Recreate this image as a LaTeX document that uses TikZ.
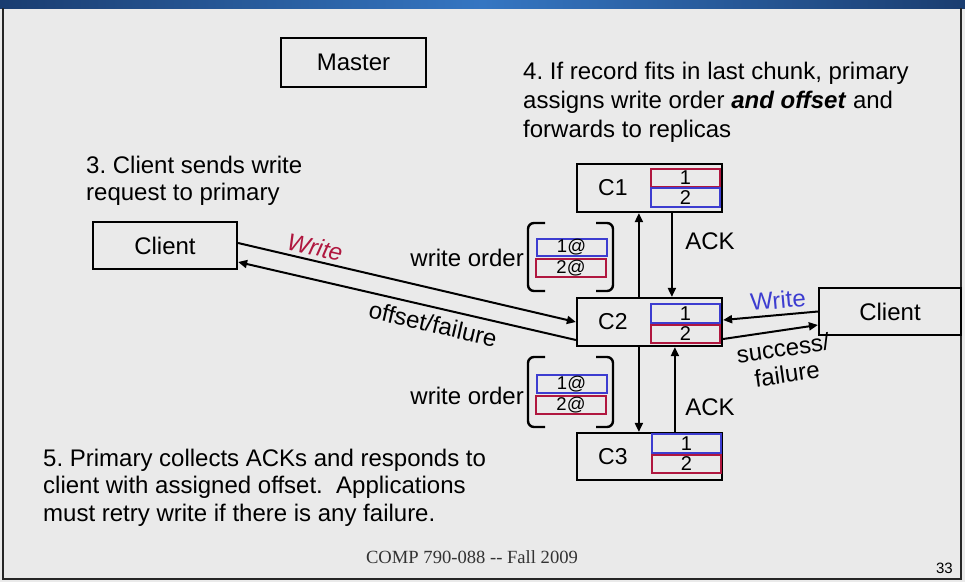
\documentclass[tikz,border=0pt]{standalone}
\usepackage{fontspec}
\setmainfont{Liberation Sans}
\newfontfamily\footerfont{Liberation Serif}
\usetikzlibrary{arrows.meta}
\definecolor{slidebg}{HTML}{EAEAEA}
\definecolor{chunkred}{HTML}{B0173F}
\definecolor{chunkblue}{HTML}{3D3DD0}
\definecolor{barblue}{HTML}{3576C2}
\definecolor{bardark}{HTML}{1A3D70}
\frenchspacing
\begin{document}
\begin{tikzpicture}[x=1pt,y=-1pt,
  box/.style={draw=black, line width=2.2pt, fill=slidebg, inner sep=0pt,
    minimum width=145pt, minimum height=48pt, font=\fontsize{24}{28}\selectfont},
  chunk/.style={draw=#1, line width=2pt, minimum width=69pt, minimum height=18.5pt,
    inner sep=0pt, font=\fontsize{20}{20}\selectfont},
  order/.style={chunk=#1, minimum width=70pt, minimum height=17.5pt,
    font=\fontsize{18.5}{18.5}\selectfont},
  arr/.style={line width=2pt, -{Triangle[length=9pt,width=8pt]}},
  brk/.style={line width=2.4pt, rounded corners=6pt},
  note/.style={anchor=base west, align=left, inner sep=0pt},
  lbl/.style={inner sep=0pt, font=\fontsize{24}{28}\selectfont},
]
\useasboundingbox (0,0) rectangle (965,582);
\fill[slidebg] (0,0) rectangle (965,582);

% slide frame and title bar
\shade[left color=bardark, right color=bardark, middle color=barblue] (0,0) rectangle (965,8);
\draw[line width=1.6pt, black!85] (3,8) -- (3,579) -- (961,579) -- (961,8);

% master, clients and chunkservers
\node[box, minimum width=145pt, minimum height=49pt] (master) at (353.5,62.5) {Master};
\node[box, minimum width=144pt, minimum height=47pt] (cliL) at (165,245.5) {Client};
\node[box, minimum width=142pt, minimum height=47pt] (cliR) at (890,311.5) {Client};
\node[box] (c1) at (649.5,188) {};
\node[box] (c2) at (649.5,322) {};
\node[box, minimum height=47pt] (c3) at (649.5,456.5) {};
\node[lbl, font=\fontsize{23}{26}\selectfont] (c1t) at ([xshift=37pt]c1.west) {C1};
\node[lbl, font=\fontsize{23}{26}\selectfont] (c2t) at ([xshift=37pt]c2.west) {C2};
\node[lbl, font=\fontsize{23}{26}\selectfont] (c3t) at ([xshift=37pt]c3.west) {C3};

% chunks held by each replica
\node[chunk=chunkred]  (c1a) at (685.5,178)   {1};
\node[chunk=chunkblue] (c1b) at (685.5,197.5) {2};
\node[chunk=chunkblue] (c2a) at (685.5,313.5) {1};
\node[chunk=chunkred]  (c2b) at (685.5,334)   {2};
\node[chunk=chunkblue] (c3a) at (686.5,443.5) {1};
\node[chunk=chunkred]  (c3b) at (686.5,464)   {2};

% write order forwarded to the replicas
\node[lbl, anchor=east] (wo1) at (524,258) {write order};
\node[order=chunkblue] (wo1a) at (571.5,247.5) {1@};
\node[order=chunkred]  (wo1b) at (571,268) {2@};
\draw[brk] (545,223) -- (528,223) -- (528,291) -- (545,291);
\draw[brk] (596,223) -- (613,223) -- (613,291) -- (596,291);

\node[lbl, anchor=east] (wo2) at (524,396) {write order};
\node[order=chunkblue] (wo2a) at (571.5,384) {1@};
\node[order=chunkred]  (wo2b) at (571,405) {2@};
\draw[brk] (545,357) -- (528,357) -- (528,427) -- (545,427);
\draw[brk] (596,357) -- (613,357) -- (613,427) -- (596,427);

% replication and acknowledgements
\draw[arr] ([xshift=63pt]c2.north west) -- ([xshift=63pt]c1.south west);
\draw[arr] ([xshift=96pt]c1.south west) -- ([xshift=96pt]c2.north west);
\draw[arr] ([xshift=63pt]c2.south west) -- ([xshift=63pt]c3.north west);
\draw[arr] ([xshift=99pt]c3.north west) -- ([xshift=99pt]c2.south west);
\node[lbl] (ack1) at (710,241) {ACK};
\node[lbl] (ack2) at (710,407) {ACK};

% client requests and replies
\draw[arr] ([yshift=2.5pt]cliL.east) -- (c2.west);
\draw[arr] ([yshift=-18pt]c2.west) -- ([yshift=-16.5pt]cliL.east);
\draw[arr] (cliR.west) -- ([yshift=2pt]c2.east);
\draw[arr] ([yshift=-17pt]c2.east) -- ([yshift=-13.5pt]cliR.west);
\node[lbl, text=chunkred, rotate=-13, font=\itshape\fontsize{24}{28}\selectfont] (wL) at (315,247) {Write};
\node[lbl, rotate=-13] (ofL) at (433,324) {offset/failure};
\node[lbl, text=chunkblue, rotate=5] (wR) at (778,300) {Write};
\node[lbl, rotate=8] (sR) at (783,348) {success/};
\node[lbl, rotate=8] (fR) at (787,374) {failure};

% explanatory notes (anchored at the baseline of their last line)
\node[note, font=\fontsize{24}{27}\selectfont] (n3) at (86,200)
  {3. Client sends write\\request to primary};
\node[note, font=\fontsize{24}{28.7}\selectfont] (n4) at (523,137)
  {4. If record fits in last chunk, primary\\assigns write order \textbf{\textit{and offset}} and\\forwards to replicas};
\node[note, font=\fontsize{24}{27.5}\selectfont] (n5) at (43,521)
  {5. Primary collects ACKs and responds to\\client with assigned offset.~ Applications\\must retry write if there is any failure.};

% footer
\node[anchor=base, inner sep=0pt, text=black!80, font=\footerfont\fontsize{18.6}{20}\selectfont] (foot) at (472,563) {COMP 790-088 -{}- Fall 2009};
\node[anchor=base east, inner sep=0pt, font=\fontsize{15}{16}\selectfont] (page) at (953,573) {33};
\end{tikzpicture}
\end{document}
